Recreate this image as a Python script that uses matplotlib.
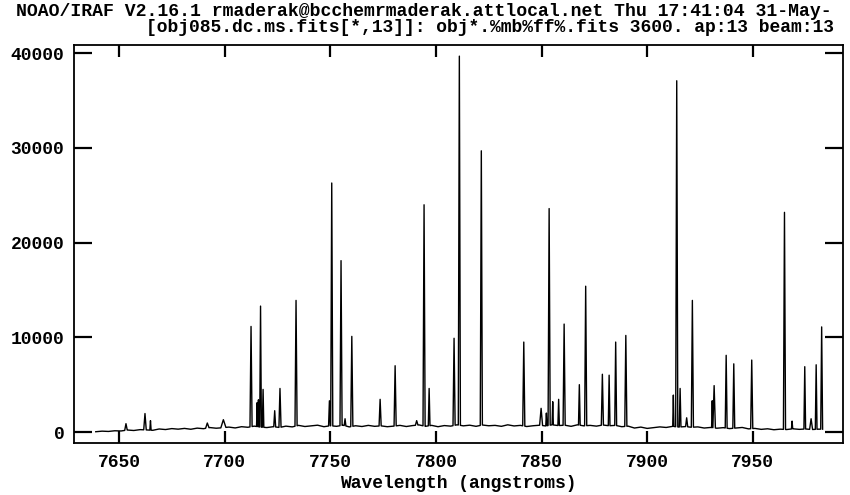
# -*- coding: utf-8 -*-
import matplotlib
matplotlib.use('Agg')
import matplotlib.pyplot as plt
import numpy as np

# continuum, one value every 3 angstroms
cont_wave = np.arange(7639, 7984, 3)
cont_flux = np.array([
    30, 90, 60, 130, 110, 210, 160, 250, 220, 180,
    320, 260, 360, 300, 380, 290, 410, 350, 470, 400,
    450, 520, 430, 560, 500, 620, 520, 470, 560, 480,
    620, 540, 700, 580, 650, 720, 560, 660, 600, 720,
    540, 660, 580, 700, 600, 650, 560, 620, 700, 580,
    680, 750, 600, 700, 560, 680, 620, 760, 650, 720,
    600, 740, 660, 700, 600, 760, 640, 700, 580, 660,
    720, 640, 760, 680, 720, 600, 760, 650, 700, 620,
    740, 660, 700, 560, 620, 420, 520, 380, 460, 540,
    480, 600, 520, 580, 500, 540, 420, 480, 400, 460,
    360, 420, 480, 330, 380, 280, 340, 240, 300, 260,
    340, 280, 320, 260, 300])

# emission lines: centre, peak value, half width at the base
line_center = [7653.3, 7662.3, 7664.9, 7691.8, 7699.4, 7712.5, 7715.4, 7716.0,
               7717.0, 7718.2, 7723.7, 7726.2, 7733.8, 7749.6, 7750.7, 7755.1,
               7757.0, 7760.2, 7773.6, 7780.7, 7790.9, 7794.4, 7796.8, 7808.6,
               7811.1, 7821.5, 7841.6, 7849.8, 7852.3, 7853.6, 7855.3, 7858.1,
               7860.7, 7867.9, 7870.9, 7878.8, 7882.0, 7885.1, 7889.9, 7912.4,
               7914.0, 7915.6, 7918.7, 7921.4, 7930.8, 7931.7, 7937.4, 7941.0,
               7949.5, 7965.0, 7968.6, 7974.6, 7977.6, 7980.0, 7982.6]
line_peak = [880, 1950, 1200, 950, 1300, 11150, 3100, 3400,
             13300, 4500, 2250, 4600, 13900, 3300, 26300, 18100,
             1400, 10100, 3450, 7000, 1200, 24000, 4600, 9900,
             39700, 29700, 9500, 2500, 2000, 23600, 3200, 3450,
             11400, 5000, 15400, 6100, 6000, 9500, 10200, 3900,
             37100, 4600, 1500, 13900, 3300, 4900, 8100, 7200,
             7600, 23200, 1150, 6900, 1400, 7100, 11100]
line_hw = [0.6, 0.6, 0.3, 0.8, 1.2, 0.5, 0.3, 0.25,
           0.4, 0.35, 0.45, 0.5, 0.5, 0.4, 0.5, 0.5,
           0.4, 0.5, 0.5, 0.5, 0.6, 0.5, 0.4, 0.5,
           0.5, 0.5, 0.5, 0.7, 0.3, 0.5, 0.3, 0.35,
           0.5, 0.4, 0.5, 0.5, 0.4, 0.45, 0.5, 0.3,
           0.5, 0.4, 0.5, 0.5, 0.3, 0.6, 0.45, 0.45,
           0.5, 0.5, 0.3, 0.4, 0.7, 0.4, 0.45]

title1 = 'NOAO/IRAF V2.16.1 rmaderak@bcchemrmaderak.attlocal.net Thu 17:41:04 31-May-'
title2 = '[obj085.dc.ms.fits[*,13]]: obj*.%mb%ff%.fits 3600. ap:13 beam:13'
xlabel = 'Wavelength (angstroms)'
xticks = [7650, 7700, 7750, 7800, 7850, 7900, 7950]
yticks = [0, 10000, 20000, 30000, 40000]

# merge continuum and lines into one spectrum
keep = np.ones(len(cont_wave), bool)
for c, w in zip(line_center, line_hw):
    keep &= ~((cont_wave > c - w) & (cont_wave < c + w))
wave = list(cont_wave[keep])
flux = list(cont_flux[keep])
for c, p, w in zip(line_center, line_peak, line_hw):
    wave += [c - w, c, c + w]
    flux += [np.interp(c - w, cont_wave, cont_flux), p,
             np.interp(c + w, cont_wave, cont_flux)]
order = np.argsort(wave, kind='stable')
wave = np.array(wave)[order]
flux = np.array(flux)[order]

font = dict(family=['Liberation Mono', 'DejaVu Sans Mono'], weight='bold', size=13)

fig = plt.figure(figsize=(8.5, 4.95), dpi=100)
ax = fig.add_axes([74/850, 1 - 443/495, (843 - 74)/850, (443 - 45)/495])
ax.plot(wave, flux, color='black', lw=1.0)

ax.set_xlim(7628.7, 7992.7)
ax.set_ylim(-1161, 40876)
ax.set_xticks(xticks)
ax.set_yticks(yticks)
ax.set_xticklabels([str(t) for t in xticks], fontdict=font)
ax.set_yticklabels([str(t) for t in yticks], fontdict=font)
ax.tick_params(direction='in', top=True, right=True, width=1.6, color='black')
ax.tick_params(axis='x', length=8.6, pad=8)
ax.tick_params(axis='y', length=13, pad=7)
for s in ax.spines.values():
    s.set_linewidth(1.3)

fig.text(16/850, 1 - 12/495, title1, ha='left', va='center',
         **dict(font, size=13.1))
fig.text(146/850, 1 - 28/495, title2, ha='left', va='center', **font)
fig.text(458/850, 1 - 483/495, xlabel, ha='center', va='center', **font)

fig.savefig('out.png', dpi=100)
